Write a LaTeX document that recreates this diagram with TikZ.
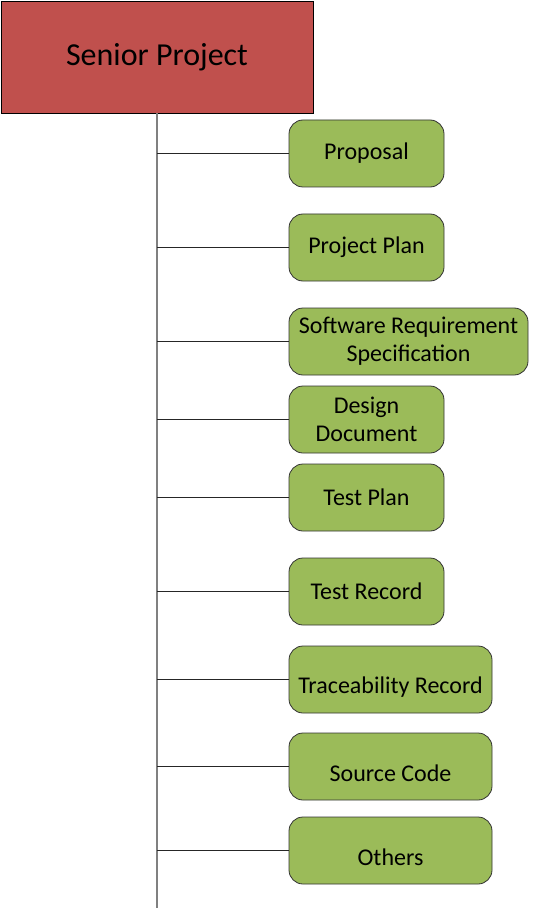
\documentclass[tikz,border=0pt]{standalone}
\usepackage{fontspec}
\setmainfont{Carlito}
\usepackage{tikz}
\usetikzlibrary{positioning}
\definecolor{rootred}{HTML}{C0504D}
\definecolor{leafgreen}{HTML}{9BBB59}
\tikzset{
    root/.style={
           rectangle,
           draw=black, thick,
           fill=rootred,
           outer sep=0pt,
           minimum width=312pt, minimum height=112pt,
           font=\fontsize{32}{36}\selectfont,
           },
}
\tikzset{
    leaf/.style={
           rectangle,
           rounded corners=14pt,
           draw=black!80, thick,
           fill=leafgreen,
           outer sep=0pt,
           minimum width=155pt, minimum height=67pt,
           inner sep=2pt,
           align=center,
           font=\fontsize{24}{28}\selectfont,
           },
}
\tikzset{
    lowtext/.style={
           text height=#1, text depth=3pt,
           },
}
\tikzset{
    trunk/.style={
           draw=black!50, line width=1.6pt,
           },
}
\tikzset{
    branch/.style={
           draw=black!85, line width=0.9pt,
           },
}

\begin{document}
\begin{tikzpicture}[x=1pt,y=-1pt]
\useasboundingbox (0,0) rectangle (537,909);
\node[root](SP) at (157,57){Senior Project};
\node[leaf,below right = 7pt and -24pt of SP.south east](PR){Proposal};
\node[leaf,below right = 27pt and 0pt of PR.south west](PP){Project Plan};
\node[leaf,minimum width=239pt,below right = 27pt and 0pt of PP.south west](SRS){Software Requirement\\Specification};
\node[leaf,below right = 11pt and 0pt of SRS.south west](DD){Design\\Document};
\node[leaf,below right = 11pt and 0pt of DD.south west](TP){Test Plan};
\node[leaf,below right = 27pt and 0pt of TP.south west](TR){Test Record};
\node[leaf,lowtext=30pt,minimum width=203pt,below right = 21pt and 0pt of TR.south west](TRR){Traceability Record};
\node[leaf,lowtext=32pt,minimum width=203pt,below right = 20pt and 0pt of TRR.south west](SC){Source Code};
\node[leaf,lowtext=32pt,minimum width=203pt,below right = 17pt and 0pt of SC.south west](OT){Others};
\coordinate[below = 24pt of OT.south -| SP.south](END);
\path (SP) edge[trunk] (END);
\path (SP.south |- PR.west) edge[branch] (PR);
\path (SP.south |- PP.west) edge[branch] (PP);
\path (SP.south |- SRS.west) edge[branch] (SRS);
\path (SP.south |- DD.west) edge[branch] (DD);
\path (SP.south |- TP.west) edge[branch] (TP);
\path (SP.south |- TR.west) edge[branch] (TR);
\path (SP.south |- TRR.west) edge[branch] (TRR);
\path (SP.south |- SC.west) edge[branch] (SC);
\path (SP.south |- OT.west) edge[branch] (OT);
\end{tikzpicture}
\end{document}
